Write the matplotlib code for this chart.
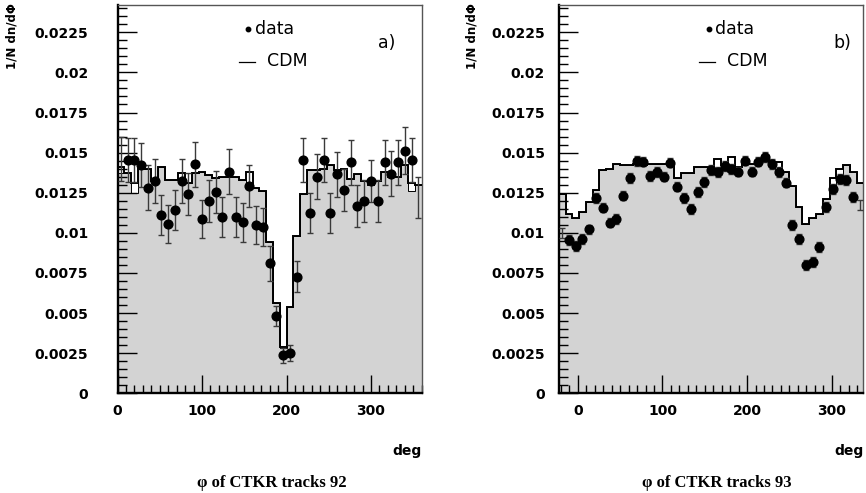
import numpy as np
import matplotlib
matplotlib.use('Agg')
import matplotlib.pyplot as plt
from matplotlib.ticker import MultipleLocator, FixedLocator, FixedFormatter
import matplotlib.transforms as mtransforms

# ---------------- data ----------------
bin_width = 8.0
start_a = 0.0
start_b = -22.5

data_a = [0.0146, 0.01454, 0.01454, 0.01423, 0.01282, 0.01323, 0.01111, 0.01054, 0.01143, 0.01323,
          0.01241, 0.01428, 0.01085, 0.01199, 0.01255, 0.01097, 0.01382, 0.01097, 0.01066, 0.01294,
          0.01049, 0.01035, 0.0081, 0.00482, 0.00237, 0.00253, 0.00727, 0.01454, 0.01126, 0.0135,
          0.01454, 0.01126, 0.01366, 0.01267, 0.0144, 0.01168, 0.01199, 0.01323, 0.01199, 0.0144,
          0.01367, 0.0144, 0.01512, 0.01454, 0.0122]
err_a = [0.0014, 0.0014, 0.0014, 0.0014, 0.0014, 0.0014, 0.00125, 0.0012, 0.00125, 0.0014,
         0.0013, 0.0014, 0.0012, 0.0013, 0.0013, 0.00125, 0.0014, 0.00125, 0.0012, 0.0013,
         0.0012, 0.0012, 0.0011, 0.0006, 0.00046, 0.0005, 0.00095, 0.0014, 0.00125, 0.0014,
         0.0014, 0.00125, 0.0014, 0.0013, 0.0014, 0.0013, 0.0013, 0.0013, 0.0013, 0.0014,
         0.0014, 0.0014, 0.00145, 0.0014, 0.0013]
cdm_a = [0.0141, 0.0137, 0.0131, 0.0140, 0.0140, 0.0132, 0.0141, 0.0133, 0.0133, 0.0137,
         0.0131, 0.0137, 0.0138, 0.0136, 0.0134, 0.0135, 0.0135, 0.0135, 0.0133, 0.0138,
         0.0128, 0.0126, 0.00945, 0.0056, 0.0029, 0.0054, 0.0098, 0.0124, 0.0139, 0.0139,
         0.0140, 0.0142, 0.0139, 0.0140, 0.01336, 0.01365, 0.01325, 0.0130, 0.01325, 0.01378,
         0.0135, 0.0135, 0.0142, 0.0131, 0.0130]
fill_a = [0.0137, 0.0137, 0.0125, 0.0140, 0.0140, 0.0132, 0.0141, 0.0133, 0.0133, 0.0133,
          0.0131, 0.0137, 0.0138, 0.0136, 0.0134, 0.0135, 0.0135, 0.0135, 0.0133, 0.0131,
          0.0128, 0.0126, 0.00945, 0.0056, 0.0028, 0.0054, 0.0098, 0.0124, 0.0139, 0.0139,
          0.0140, 0.0142, 0.0139, 0.0140, 0.01336, 0.01365, 0.01325, 0.0130, 0.01325, 0.01378,
          0.0135, 0.0135, 0.0142, 0.0126, 0.0130]

data_b = [0.0100, 0.00956, 0.00918, 0.00962, 0.01022, 0.01219, 0.01157, 0.01064, 0.01087, 0.01232,
          0.0134, 0.01448, 0.01444, 0.01355, 0.01378, 0.0135, 0.01438, 0.01288, 0.01216, 0.01147,
          0.01253, 0.01315, 0.01392, 0.01378, 0.01417, 0.01396, 0.01382, 0.0145, 0.01382, 0.01444,
          0.01471, 0.0143, 0.01378, 0.01313, 0.01049, 0.00962, 0.008, 0.00817, 0.0091, 0.01163,
          0.01272, 0.01336, 0.0133, 0.01222, 0.01174]
err_b = [0.0003, 0.0003, 0.0003, 0.0003, 0.0003, 0.0003, 0.0003, 0.0003, 0.0003, 0.0003,
         0.0003, 0.0003, 0.0003, 0.0003, 0.0003, 0.0003, 0.0003, 0.0003, 0.0003, 0.0003,
         0.0003, 0.0003, 0.0003, 0.0003, 0.0003, 0.0003, 0.0003, 0.0003, 0.0003, 0.0003,
         0.0003, 0.0003, 0.0003, 0.0003, 0.0003, 0.0003, 0.0003, 0.0003, 0.0003, 0.0003,
         0.0003, 0.0003, 0.0003, 0.0003, 0.0003]
cdm_b = [0.0124, 0.0112, 0.0109, 0.0113, 0.0119, 0.0127, 0.0139, 0.0140, 0.0143, 0.0142,
         0.0142, 0.0143, 0.0142, 0.0143, 0.0143, 0.0143, 0.0144, 0.0134, 0.0137, 0.0137,
         0.0141, 0.0141, 0.0141, 0.0146, 0.0142, 0.0147, 0.0141, 0.0143, 0.0143, 0.0145,
         0.0148, 0.0144, 0.0144, 0.0138, 0.0129, 0.0116, 0.01055, 0.0109, 0.0112, 0.0121,
         0.0134, 0.0140, 0.0142, 0.0138, 0.0131]
fill_b = [0.0124, 0.0112, 0.0109, 0.0113, 0.0119, 0.0127, 0.0139, 0.0140, 0.0143, 0.0142,
          0.0142, 0.0143, 0.0142, 0.0143, 0.0143, 0.0143, 0.0144, 0.0134, 0.0137, 0.0137,
          0.0141, 0.0141, 0.0141, 0.0140, 0.0142, 0.0142, 0.0141, 0.0143, 0.0143, 0.0145,
          0.0148, 0.0144, 0.0137, 0.0138, 0.0129, 0.0116, 0.01055, 0.0109, 0.0112, 0.0121,
          0.0129, 0.0135, 0.0142, 0.0138, 0.0131]

ytick_vals = [0, 0.0025, 0.005, 0.0075, 0.01, 0.0125, 0.015, 0.0175, 0.02, 0.0225]
ytick_labels = ["0", "0.0025", "0.005", "0.0075", "0.01", "0.0125", "0.015", "0.0175", "0.02", "0.0225"]
xtick_vals = [0, 100, 200, 300]
xtick_labels = ["0", "100", "200", "300"]

ylabel = "1/N dn/d\u03A6"
xlabel = "deg"
titles = ["\u03C6 of CTKR tracks 92", "\u03C6 of CTKR tracks 93"]
panel_tags = ["a)", "b)"]

# ---------------- figure ----------------
W, H = 866, 493
fig = plt.figure(figsize=(W / 100, H / 100), dpi=100)

def frac(x0, y_top, w, h):
    return [x0 / W, (H - y_top - h) / H, w / W, h / H]

ax_a = fig.add_axes(frac(117.5, 5, 304.2, 388.3))
ax_b = fig.add_axes(frac(558.8, 5, 304.6, 388.3))

GRAY = '#d3d3d3'


def draw(ax, start, data, err, cdm, fill, ypad, tag, tag_x, title, title_x):
    n = len(data)
    edges = start + bin_width * np.arange(n + 1)
    centers = 0.5 * (edges[:-1] + edges[1:])
    ax.stairs(fill, edges, fill=True, color=GRAY, lw=0, zorder=1)
    ax.stairs(fill, edges, fill=False, color='black', lw=0.7, baseline=None, zorder=2)
    ax.stairs(cdm, edges, fill=False, color='black', lw=1.4, baseline=None, zorder=3)
    ax.errorbar(centers, data, yerr=err, fmt='none', ecolor='#3a3a3a',
                elinewidth=1.0, capsize=2.3, capthick=1.0, zorder=4)
    ax.plot(centers[1:-1], data[1:-1], 'o', color='black', ms=6.3, zorder=5)

    ax.set_xlim(edges[0], edges[-1])
    ax.set_ylim(0, 0.0242)

    ax.yaxis.set_major_locator(FixedLocator(ytick_vals))
    ax.yaxis.set_major_formatter(FixedFormatter(ytick_labels))
    ax.yaxis.set_minor_locator(MultipleLocator(0.0005))
    ax.xaxis.set_major_locator(FixedLocator(xtick_vals))
    ax.xaxis.set_major_formatter(FixedFormatter(xtick_labels))
    ax.xaxis.set_minor_locator(MultipleLocator(10))

    ax.tick_params(which='both', direction='in', top=False, right=False, color='black')
    ax.tick_params(axis='y', which='major', length=14, width=1.0, pad=ypad)
    ax.tick_params(axis='y', which='minor', length=6.5, width=1.0)
    ax.tick_params(axis='x', which='major', length=13, width=1.0, pad=8)
    ax.tick_params(axis='x', which='minor', length=6, width=1.0)
    for lab in ax.get_xticklabels() + ax.get_yticklabels():
        lab.set_fontfamily('DejaVu Sans')
        lab.set_fontweight('bold')
        lab.set_fontsize(10)

    for s in ('left', 'bottom'):
        ax.spines[s].set_linewidth(1.7)
        ax.spines[s].set_color('black')
    for s in ('top', 'right'):
        ax.spines[s].set_linewidth(1.0)
        ax.spines[s].set_color('#555555')

    # legend, x in data coordinates, y in axes fraction
    tr = mtransforms.blended_transform_factory(ax.transData, ax.transAxes)
    ax.plot([154.6], [0.9374], 'o', color='black', ms=3.2, transform=tr, clip_on=False, zorder=6)
    ax.text(162.5, 0.9374, 'data', transform=tr, ha='left', va='center',
            family='DejaVu Sans', size=12.5, zorder=6)
    ax.plot([143.5, 162.5], [0.854, 0.854], color='black', lw=0.9, transform=tr, zorder=6)
    ax.text(176.5, 0.856, 'CDM', transform=tr, ha='left', va='center',
            family='DejaVu Sans', size=12.5, zorder=6)
    ax.text(tag_x, 0.901, tag, transform=tr, ha='left', va='center',
            family='DejaVu Sans', size=12.5, zorder=6)

    ax.text(1.0, -0.1486, xlabel, transform=ax.transAxes, ha='right', va='center',
            family='DejaVu Sans', weight='bold', size=10)
    ax.text(title_x, -0.231, title, transform=ax.transAxes, ha='center', va='center',
            family=['Liberation Serif', 'DejaVu Serif'], weight='bold', size=12)


draw(ax_a, start_a, data_a, err_a, cdm_a, fill_a, 21, panel_tags[0], 308, titles[0], 0.508)
draw(ax_b, start_b, data_b, err_b, cdm_b, fill_b, 10, panel_tags[1], 302, titles[1], 0.519)

fig.text(12 / W, 1 - 3 / H, ylabel, rotation=90, ha='center', va='top',
         family='DejaVu Sans', weight='bold', size=8.5)
fig.text(472 / W, 1 - 3 / H, ylabel, rotation=90, ha='center', va='top',
         family='DejaVu Sans', weight='bold', size=8.5)

fig.savefig('out.png', dpi=100)
